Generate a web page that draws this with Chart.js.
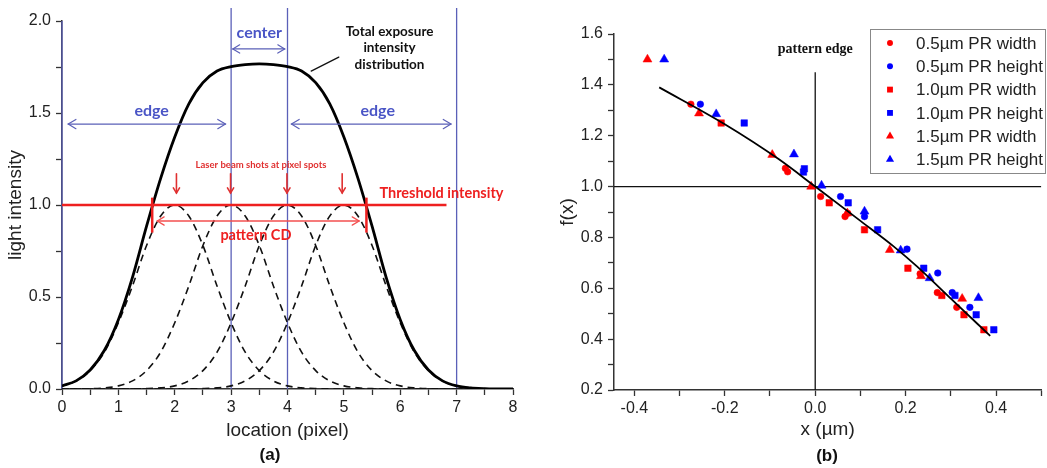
<!DOCTYPE html>
<html>
<head>
<meta charset="utf-8">
<script src="https://cdn.jsdelivr.net/npm/chart.js@4.4.0/dist/chart.umd.min.js"></script>
<style>
  body { margin: 0; background: #fff; width: 1047px; height: 468px; overflow: hidden; position: relative; }
  #wrapA { position: absolute; left: 0; top: 0; width: 530px; height: 468px; }
  #wrapB { position: absolute; left: 530px; top: 0; width: 517px; height: 468px; }
</style>
</head>
<body>
<div id="wrapA"><canvas id="chartA"></canvas></div>
<div id="wrapB"><canvas id="chartB"></canvas></div>
<script>
// ---------- panel (a) data ----------
const shotCentres = [2, 3, 4, 5];
// one laser shot profile at offsets from the shot centre
const shotOffsets = [-4, -3.5, -3, -2.5, -2.25, -2, -1.75, -1.5, -1.25, -1, -0.75, -0.5, -0.25, 0,
  0.25, 0.5, 0.75, 1, 1.25, 1.5, 1.75, 2, 2.25, 2.5, 3, 3.5, 4];
const shotProfile = [0, 0, 0, 0.002, 0.006, 0.017, 0.044, 0.10, 0.20, 0.36, 0.56, 0.78, 0.94, 1.0,
  0.94, 0.78, 0.56, 0.36, 0.20, 0.10, 0.044, 0.017, 0.006, 0.002, 0, 0, 0];

const totalLocation = [0, 0.25, 0.5, 0.75, 1, 1.25, 1.5, 1.75, 2, 2.25, 2.5, 2.75, 3, 3.25, 3.5,
  3.75, 4, 4.25, 4.5, 4.75, 5, 5.25, 5.5, 5.75, 6, 6.25, 6.5, 6.75, 7, 7.25, 7.5, 7.75, 8];
const totalIntensity = [0.017, 0.044, 0.103, 0.209, 0.377, 0.607, 0.885, 1.145, 1.37, 1.55, 1.665,
  1.728, 1.752, 1.763, 1.767, 1.763, 1.752, 1.728, 1.665, 1.55, 1.37, 1.145, 0.885, 0.607, 0.377,
  0.209, 0.103, 0.044, 0.017, 0.006, 0.002, 0, 0];

const regionLines = [0, 3, 4, 7];
const regionLineTops = [2.0, 2.07, 2.07, 2.07];
const thresholdLevel = 1.0;
const thresholdEnd = 6.82;
const cdEdges = [1.6, 5.4];
const cdTickRange = [0.85, 1.04];

const xMajorA = [0, 1, 2, 3, 4, 5, 6, 7, 8];
const xMinorA = [0.5, 1.5, 2.5, 3.5, 4.5, 5.5, 6.5, 7.5];
const yMajorA = [0, 0.5, 1.0, 1.5, 2.0];
const yMinorA = [0.25, 0.75, 1.25, 1.75];

// ---------- panel (b) data ----------
const seriesNames = ["0.5µm PR width", "0.5µm PR height", "1.0µm PR width",
  "1.0µm PR height", "1.5µm PR width", "1.5µm PR height"];
const w05x = [-0.275, -0.066, -0.061, 0.012, 0.066, 0.072, 0.232, 0.270, 0.313];
const w05y = [1.324, 1.072, 1.058, 0.961, 0.882, 0.895, 0.657, 0.583, 0.525];
const h05x = [-0.254, 0.056, 0.109, 0.203, 0.271, 0.303, 0.342];
const h05y = [1.324, 0.961, 0.882, 0.754, 0.660, 0.583, 0.525];
const w10x = [-0.208, 0.031, 0.109, 0.205, 0.280, 0.329, 0.373];
const w10y = [1.250, 0.936, 0.830, 0.679, 0.572, 0.496, 0.437];
const h10x = [-0.157, -0.024, -0.026, 0.073, 0.138, 0.240, 0.309, 0.356, 0.395];
const h10y = [1.250, 1.070, 1.057, 0.936, 0.830, 0.679, 0.572, 0.496, 0.437];
const w15x = [-0.371, -0.257, -0.095, -0.009, 0.071, 0.165, 0.234, 0.325];
const w15y = [1.500, 1.288, 1.125, 1.000, 0.895, 0.751, 0.648, 0.559];
const h15x = [-0.334, -0.219, -0.047, 0.014, 0.109, 0.189, 0.253, 0.361];
const h15y = [1.500, 1.285, 1.127, 1.004, 0.902, 0.749, 0.640, 0.562];

const fitX = [-0.345, -0.2, -0.081, 0, 0.1, 0.174, 0.225, 0.3, 0.387];
const fitY = [1.39, 1.245, 1.108, 1.0, 0.865, 0.764, 0.686, 0.559, 0.413];

const edgeLineTop = 1.45;
const xMajorB = [-0.4, -0.2, 0.0, 0.2, 0.4];
const xMinorB = [-0.3, -0.1, 0.1, 0.3, 0.5];
const yMajorB = [0.2, 0.4, 0.6, 0.8, 1.0, 1.2, 1.4, 1.6];
const yMinorB = [0.3, 0.5, 0.7, 0.9, 1.1, 1.3, 1.5];

// ---------- helpers ----------
const zip = (xs, ys) => xs.map((x, i) => ({ x: x, y: ys[i] }));
const tickList = (major, minor) => major.concat(minor).sort((a, b) => a - b).map(v => ({ value: v }));
const axisFont = { family: "'Liberation Sans', Arial, sans-serif", size: 16 };
const titleFont = { family: "'Liberation Sans', Arial, sans-serif", size: 19 };
const annFont = "Lato, 'Open Sans', sans-serif";
const axisColor = "#333";
const blue = "#5b60b8";
const blueText = "#4a55c6";
const red = "#ee2020";

function arrowHead(ctx, x, y, ang, len) {
  ctx.beginPath();
  ctx.moveTo(x + len * Math.cos(ang + 2.6), y + len * Math.sin(ang + 2.6));
  ctx.lineTo(x, y);
  ctx.lineTo(x + len * Math.cos(ang - 2.6), y + len * Math.sin(ang - 2.6));
  ctx.stroke();
}

function arrow(ctx, x1, y1, x2, y2, both, len) {
  ctx.beginPath();
  ctx.moveTo(x1, y1);
  ctx.lineTo(x2, y2);
  ctx.stroke();
  const ang = Math.atan2(y2 - y1, x2 - x1);
  arrowHead(ctx, x2, y2, ang, len);
  if (both) arrowHead(ctx, x1, y1, ang + Math.PI, len);
}

function label(ctx, text, x, y, font, color) {
  ctx.font = font;
  ctx.fillStyle = color;
  ctx.textAlign = "center";
  ctx.textBaseline = "middle";
  ctx.fillText(text, x, y);
}

// ---------- panel (a) ----------
const datasetsA = [];
regionLines.forEach((v, i) => {
  datasetsA.push({
    data: [{ x: v, y: 0 }, { x: v, y: regionLineTops[i] }],
    borderColor: blue, borderWidth: 1.3, pointRadius: 0, clip: false, order: 10
  });
});
shotCentres.forEach(c => {
  datasetsA.push({
    data: shotOffsets.map((o, i) => ({ x: c + o, y: shotProfile[i] })),
    borderColor: "#111", borderWidth: 1.6, borderDash: [7, 5], pointRadius: 0,
    cubicInterpolationMode: "monotone", order: 5
  });
});
datasetsA.push({
  data: zip(totalLocation, totalIntensity),
  borderColor: "#000", borderWidth: 2.8, pointRadius: 0,
  cubicInterpolationMode: "monotone", order: 2
});
datasetsA.push({
  data: [{ x: 0, y: thresholdLevel }, { x: thresholdEnd, y: thresholdLevel }],
  borderColor: red, borderWidth: 2.5, pointRadius: 0, order: 1
});
cdEdges.forEach(v => {
  datasetsA.push({
    data: [{ x: v, y: cdTickRange[0] }, { x: v, y: cdTickRange[1] }],
    borderColor: red, borderWidth: 2.5, pointRadius: 0, order: 1
  });
});

const notesA = {
  id: "notesA",
  afterDatasetsDraw(chart) {
    const { ctx, scales: { x, y } } = chart;
    const px = v => x.getPixelForValue(v);
    const py = v => y.getPixelForValue(v);
    ctx.save();
    ctx.lineCap = "round";

    // blue region arrows
    ctx.strokeStyle = blue;
    ctx.lineWidth = 1.2;
    arrow(ctx, px(3.03), py(1.848), px(3.95), py(1.848), true, 8);
    arrow(ctx, px(0.11), py(1.44), px(2.9), py(1.44), true, 9);
    arrow(ctx, px(4.07), py(1.44), px(6.9), py(1.44), true, 9);
    label(ctx, "center", px(3.5), py(1.935), "bold 16px " + annFont, blueText);
    label(ctx, "edge", px(1.59), py(1.51), "bold 16px " + annFont, blueText);
    label(ctx, "edge", px(5.6), py(1.51), "bold 16px " + annFont, blueText);

    // total curve note
    const bf = "bold 13.5px " + annFont;
    label(ctx, "Total exposure", px(5.81), py(1.94), bf, "#111");
    label(ctx, "intensity", px(5.81), py(1.853), bf, "#111");
    label(ctx, "distribution", px(5.81), py(1.763), bf, "#111");
    ctx.strokeStyle = "#111";
    ctx.lineWidth = 1.3;
    ctx.beginPath();
    ctx.moveTo(px(4.91), py(1.804));
    ctx.lineTo(px(4.42), py(1.728));
    ctx.stroke();

    // laser shots
    label(ctx, "Laser beam shots at pixel spots", px(3.53), py(1.22), "bold 9.5px " + annFont, "#e03030");
    ctx.strokeStyle = "#e03030";
    ctx.lineWidth = 1.6;
    [2.03, 2.99, 3.99, 4.97].forEach(v => arrow(ctx, px(v), py(1.17), px(v), py(1.065), false, 6));

    label(ctx, "Threshold intensity", px(6.73), py(1.066), "bold 14.5px " + annFont, red);

    // pattern CD
    ctx.strokeStyle = "#f45050";
    ctx.lineWidth = 1.3;
    arrow(ctx, px(1.69), py(0.913), px(5.27), py(0.913), true, 8);
    label(ctx, "pattern CD", px(3.44), py(0.837), "bold 14.5px " + annFont, red);

    label(ctx, "(a)", 270, 455, "bold 17px 'Liberation Sans', Arial, sans-serif", "#111");
    ctx.restore();
  }
};

new Chart(document.getElementById("chartA"), {
  type: "line",
  data: { datasets: datasetsA },
  options: {
    responsive: true,
    maintainAspectRatio: false,
    animation: false,
    layout: { padding: { left: 0, right: 17, top: 21, bottom: 25 } },
    plugins: { legend: { display: false }, tooltip: { enabled: false } },
    scales: {
      x: {
        type: "linear", min: 0, max: 8,
        afterBuildTicks: s => { s.ticks = tickList(xMajorA, xMinorA); },
        afterFit: s => { s.height = 54; },
        ticks: { callback: v => xMajorA.includes(v) ? String(v) : "", autoSkip: false, maxRotation: 0,
          font: axisFont, color: "#222", padding: 3 },
        grid: { drawOnChartArea: false, tickLength: 6, tickColor: axisColor, tickWidth: 1.3 },
        border: { color: axisColor, width: 1.5 },
        title: { display: true, text: "location (pixel)", font: titleFont, color: "#222", padding: { top: 0, bottom: 1 } }
      },
      y: {
        type: "linear", min: 0, max: 2,
        afterBuildTicks: s => { s.ticks = tickList(yMajorA, yMinorA); },
        afterFit: s => { s.width = 62; },
        ticks: { callback: v => yMajorA.includes(v) ? v.toFixed(1) : "", autoSkip: false,
          font: axisFont, color: "#222", padding: 5 },
        grid: { drawOnChartArea: false, tickLength: 6, tickColor: axisColor, tickWidth: 1.3 },
        border: { color: axisColor, width: 1.5 },
        title: { display: true, text: "light intensity", font: titleFont, color: "#222", padding: { top: 4, bottom: 0 } }
      }
    }
  },
  plugins: [notesA]
});

// ---------- panel (b) ----------
const red2 = "#ff0000";
const blue2 = "#0000ff";
const seriesStyles = [
  { color: red2, style: "circle", r: 3.3 },
  { color: blue2, style: "circle", r: 3.3 },
  { color: red2, style: "rect", r: 4.6 },
  { color: blue2, style: "rect", r: 4.6 },
  { color: red2, style: "triangle", r: 5.2 },
  { color: blue2, style: "triangle", r: 5.2 }
];
const seriesData = [zip(w05x, w05y), zip(h05x, h05y), zip(w10x, w10y), zip(h10x, h10y), zip(w15x, w15y), zip(h15x, h15y)];

const datasetsB = [
  { type: "line", data: [{ x: 0, y: 0.2 }, { x: 0, y: edgeLineTop }], borderColor: "#111", borderWidth: 1.3, pointRadius: 0, order: 10 },
  { type: "line", data: [{ x: -0.445, y: 1.0 }, { x: 0.5, y: 1.0 }], borderColor: "#111", borderWidth: 1.3, pointRadius: 0, order: 10 }
];
seriesData.forEach((d, i) => {
  const st = seriesStyles[i];
  datasetsB.push({
    type: "scatter", label: seriesNames[i], data: d,
    pointStyle: st.style, pointRadius: st.r, pointBackgroundColor: st.color,
    pointBorderColor: st.color, pointBorderWidth: 0.5, order: 6
  });
});
datasetsB.push({
  type: "line", data: zip(fitX, fitY), borderColor: "#000", borderWidth: 1.8, pointRadius: 0,
  cubicInterpolationMode: "monotone", order: 1
});

function marker(ctx, style, x, y, r, color) {
  ctx.fillStyle = color;
  ctx.beginPath();
  if (style === "circle") {
    ctx.arc(x, y, r, 0, Math.PI * 2);
  } else if (style === "rect") {
    const s = r * Math.SQRT1_2;
    ctx.rect(x - s, y - s, 2 * s, 2 * s);
  } else {
    ctx.moveTo(x, y - r);
    ctx.lineTo(x + r * 0.866, y + r * 0.5);
    ctx.lineTo(x - r * 0.866, y + r * 0.5);
    ctx.closePath();
  }
  ctx.fill();
}

const notesB = {
  id: "notesB",
  afterDatasetsDraw(chart) {
    const { ctx, scales: { x, y } } = chart;
    ctx.save();
    label(ctx, "pattern edge", x.getPixelForValue(0), y.getPixelForValue(1.541),
      "bold 14px 'Liberation Serif', 'Times New Roman', serif", "#111");

    // legend box
    const bx = 340, by = 29, bw = 176, bh = 145;
    ctx.fillStyle = "#fff";
    ctx.fillRect(bx, by, bw, bh);
    ctx.strokeStyle = "#888";
    ctx.lineWidth = 1;
    ctx.strokeRect(bx + 0.5, by + 0.5, bw - 1, bh - 1);
    seriesNames.forEach((name, i) => {
      const ry = 43 + i * 23.3;
      const st = seriesStyles[i];
      marker(ctx, st.style, 360, ry, st.r * 0.9, st.color);
      ctx.font = "17px 'Liberation Sans', Arial, sans-serif";
      ctx.fillStyle = "#222";
      ctx.textAlign = "left";
      ctx.textBaseline = "middle";
      ctx.fillText(name, 386, ry + 1);
    });

    label(ctx, "(b)", 297, 456, "bold 17px 'Liberation Sans', Arial, sans-serif", "#111");
    ctx.restore();
  }
};

new Chart(document.getElementById("chartB"), {
  type: "scatter",
  data: { datasets: datasetsB },
  options: {
    responsive: true,
    maintainAspectRatio: false,
    animation: false,
    layout: { padding: { left: 22, right: 1, top: 34, bottom: 26 } },
    plugins: { legend: { display: false }, tooltip: { enabled: false } },
    scales: {
      x: {
        type: "linear", min: -0.445, max: 0.5,
        afterBuildTicks: s => { s.ticks = tickList(xMajorB, xMinorB); },
        afterFit: s => { s.height = 52; },
        ticks: { callback: v => xMajorB.includes(v) ? v.toFixed(1) : "", autoSkip: false, maxRotation: 0,
          font: axisFont, color: "#222", padding: 3 },
        grid: { drawOnChartArea: false, tickLength: 6, tickColor: axisColor, tickWidth: 1.3 },
        border: { color: axisColor, width: 1.5 },
        title: { display: true, text: "x (µm)", font: titleFont, color: "#222", padding: { top: 0, bottom: 1 } }
      },
      y: {
        type: "linear", min: 0.2, max: 1.6,
        afterBuildTicks: s => { s.ticks = tickList(yMajorB, yMinorB); },
        afterFit: s => { s.width = 62; },
        ticks: { callback: v => yMajorB.includes(v) ? v.toFixed(1) : "", autoSkip: false,
          font: axisFont, color: "#222", padding: 5 },
        grid: { drawOnChartArea: false, tickLength: 6, tickColor: axisColor, tickWidth: 1.3 },
        border: { color: axisColor, width: 1.5 },
        title: { display: true, text: "f(x)", font: titleFont, color: "#222", padding: { top: 4, bottom: 0 } }
      }
    }
  },
  plugins: [notesB]
});
</script>
</body>
</html>
